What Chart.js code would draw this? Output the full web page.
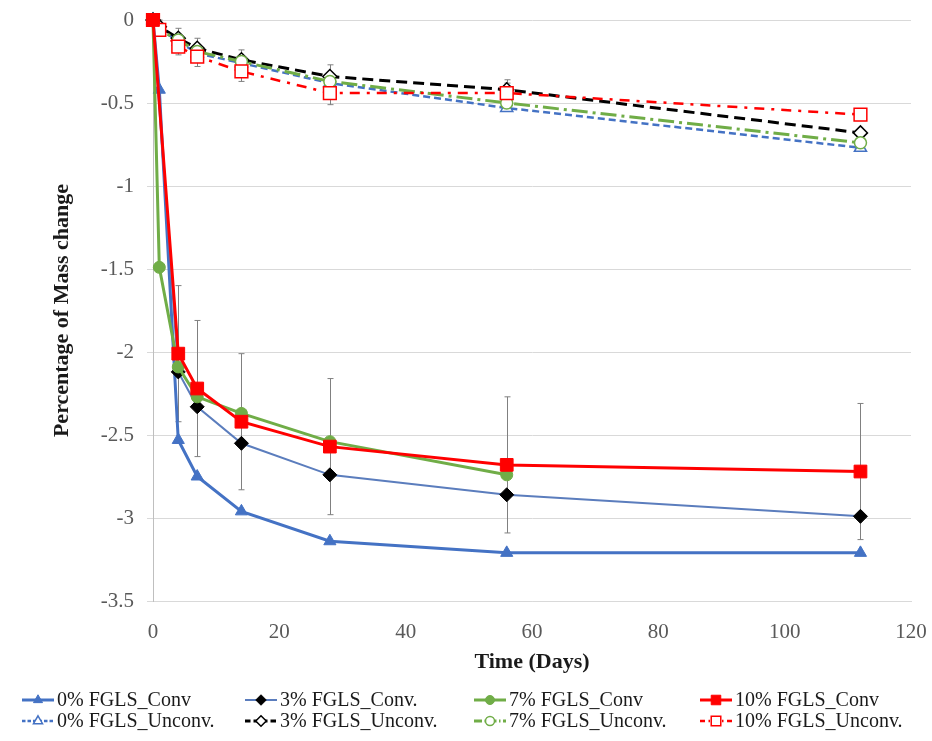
<!DOCTYPE html>
<html>
<head>
<meta charset="utf-8">
<title>Mass change</title>
<script src="https://cdn.jsdelivr.net/npm/chart.js@4/dist/chart.umd.min.js"></script>
<style>
    html, body { margin: 0; padding: 0; background: #fff; }
    #wrap { width: 932px; height: 741px; }
</style>
</head>
<body>
<div id="wrap"><canvas id="massChart" width="932" height="741"></canvas></div>
<script>
// Sampling days
const days = [0, 1, 4, 7, 14, 28, 56, 112];

// Conventional curing
const conv0 = [0, -0.42, -2.53, -2.75, -2.96, -3.14, -3.21, -3.21];
const conv3 = [0, null, -2.12, -2.33, -2.55, -2.74, -2.86, -2.99];
const conv7 = [0, -1.49, -2.09, -2.27, -2.37, -2.54, -2.74, null];
const conv10 = [0, null, -2.01, -2.22, -2.42, -2.57, -2.68, -2.72];

// Unconventional curing
const unconv0 = [0, -0.05, -0.13, -0.20, -0.26, -0.38, -0.53, -0.77];
const unconv3 = [0, -0.04, -0.11, -0.17, -0.24, -0.34, -0.42, -0.68];
const unconv7 = [0, -0.06, -0.12, -0.19, -0.25, -0.37, -0.50, -0.74];
const unconv10 = [0, -0.06, -0.16, -0.22, -0.31, -0.44, -0.44, -0.57];

// Standard deviations (only series that carry error bars)
const errConv10 = [0, null, 0.41, 0.41, 0.41, 0.41, 0.41, 0.41];
const errUnconv3 = [0, 0.04, 0.06, 0.06, 0.06, 0.07, 0.06, 0.02];
const errUnconv10 = [0, 0.03, 0.05, 0.06, 0.06, 0.07, 0.06, 0.02];

const xTickValues = [0, 20, 40, 60, 80, 100, 120];
const yTickValues = [0, -0.5, -1, -1.5, -2, -2.5, -3, -3.5];

const SERIF = "'Liberation Serif', 'Times New Roman', serif";
const BLUE = '#4472c4';
const GREEN = '#70ad47';
const RED = '#ff0000';

function toPoints(values) {
    return days.map((d, i) => ({ x: d, y: values[i] }));
}

function series(label, values, opts) {
    return Object.assign({
        label: label,
        data: toPoints(values),
        spanGaps: true,
        clip: false,
        tension: 0
    }, opts);
}

const convSets = [
    series('0% FGLS_Conv', conv0, {
        borderColor: BLUE, backgroundColor: BLUE, borderWidth: 3,
        pointStyle: 'triangle', pointRadius: 7, pointBorderWidth: 1
    }),
    series('3% FGLS_Conv.', conv3, {
        borderColor: '#5b7dbd', backgroundColor: '#000', borderWidth: 2,
        pointStyle: 'rectRot', pointRadius: 7, pointBorderColor: '#000', pointBorderWidth: 1
    }),
    series('7% FGLS_Conv', conv7, {
        borderColor: GREEN, backgroundColor: GREEN, borderWidth: 3,
        pointStyle: 'circle', pointRadius: 6, pointBorderWidth: 1
    }),
    series('10% FGLS_Conv', conv10, {
        borderColor: RED, backgroundColor: RED, borderWidth: 3,
        pointStyle: 'rect', pointRadius: 9, pointBorderWidth: 1,
        errors: errConv10
    })
];

const unconvSets = [
    series('0% FGLS_Unconv.', unconv0, {
        borderColor: BLUE, backgroundColor: '#fff', borderWidth: 2.5, borderDash: [7, 4],
        pointStyle: 'triangle', pointRadius: 7, pointBorderWidth: 1.5
    }),
    series('3% FGLS_Unconv.', unconv3, {
        borderColor: '#000', backgroundColor: '#fff', borderWidth: 3, borderDash: [11, 6],
        pointStyle: 'rectRot', pointRadius: 7, pointBorderWidth: 1.5,
        errors: errUnconv3
    }),
    series('7% FGLS_Unconv.', unconv7, {
        borderColor: GREEN, backgroundColor: '#fff', borderWidth: 3, borderDash: [16, 5, 3, 5],
        pointStyle: 'circle', pointRadius: 6, pointBorderWidth: 1.5
    }),
    series('10% FGLS_Unconv.', unconv10, {
        borderColor: RED, backgroundColor: '#fff', borderWidth: 2.5, borderDash: [10, 7, 3, 7],
        pointStyle: 'rect', pointRadius: 9, pointBorderWidth: 1.5,
        errors: errUnconv10
    })
];

// conventional series sit on top, higher FGLS content above lower
convSets.forEach((ds, i) => { ds.order = 4 - i; });
unconvSets.forEach((ds, i) => { ds.order = 8 - i; });
const datasets = convSets.concat(unconvSets);

// Vertical error bars with small caps
const errorBars = {
    id: 'errorBars',
    beforeDatasetsDraw(chart) {
        const { ctx, scales: { x, y } } = chart;
        ctx.save();
        ctx.strokeStyle = '#808080';
        ctx.lineWidth = 1;
        chart.data.datasets.forEach(ds => {
            if (!ds.errors) return;
            ds.data.forEach((p, i) => {
                const e = ds.errors[i];
                if (p.y === null || !e) return;
                const px = Math.round(x.getPixelForValue(p.x)) + 0.5;
                const top = y.getPixelForValue(p.y + e);
                const bottom = y.getPixelForValue(p.y - e);
                ctx.beginPath();
                ctx.moveTo(px, top);
                ctx.lineTo(px, bottom);
                ctx.moveTo(px - 3, top);
                ctx.lineTo(px + 3, top);
                ctx.moveTo(px - 3, bottom);
                ctx.lineTo(px + 3, bottom);
                ctx.stroke();
            });
        });
        ctx.restore();
    }
};

// Two-row legend under the axis, one column per FGLS content
const gridLegend = {
    id: 'gridLegend',
    afterDraw(chart) {
        const ctx = chart.ctx;
        const colX = [22, 245, 474, 700];
        const rowY = [700, 721];
        const sampleLen = 32;
        ctx.save();
        ctx.font = '20px ' + SERIF;
        ctx.textBaseline = 'middle';
        ctx.textAlign = 'left';
        chart.data.datasets.forEach((ds, i) => {
            const sx = colX[i % 4];
            const sy = rowY[Math.floor(i / 4)];
            ctx.strokeStyle = ds.borderColor;
            ctx.lineWidth = ds.borderWidth;
            ctx.setLineDash(ds.borderDash ? ds.borderDash.map(v => v * 0.5) : []);
            ctx.beginPath();
            ctx.moveTo(sx, sy);
            ctx.lineTo(sx + sampleLen, sy);
            ctx.stroke();
            ctx.setLineDash([]);
            ctx.fillStyle = ds.backgroundColor;
            ctx.strokeStyle = ds.pointBorderColor || ds.borderColor;
            ctx.lineWidth = ds.pointBorderWidth;
            Chart.helpers.drawPoint(ctx, {
                pointStyle: ds.pointStyle,
                radius: ds.pointRadius * 0.75,
                rotation: 0,
                borderWidth: ds.pointBorderWidth
            }, sx + sampleLen / 2, sy);
            ctx.fillStyle = '#1a1a1a';
            ctx.fillText(ds.label, sx + sampleLen + 3, sy + 1);
        });
        ctx.restore();
    }
};

const chart = new Chart(document.getElementById('massChart'), {
    type: 'line',
    data: { datasets: datasets },
    plugins: [errorBars, gridLegend],
    options: {
        responsive: false,
        animation: false,
        events: [],
        layout: { padding: { top: 20, right: 21, bottom: 60, left: 0 } },
        plugins: {
            legend: { display: false },
            tooltip: { enabled: false }
        },
        scales: {
            x: {
                type: 'linear',
                min: xTickValues[0],
                max: xTickValues[xTickValues.length - 1],
                afterBuildTicks: s => { s.ticks = xTickValues.map(v => ({ value: v })); },
                ticks: {
                    color: '#595959',
                    font: { family: SERIF, size: 21 },
                    padding: 19,
                    maxRotation: 0
                },
                grid: { display: false, drawTicks: false },
                border: { display: true, color: '#d9d9d9' },
                title: {
                    display: true,
                    text: 'Time (Days)',
                    color: '#1a1a1a',
                    font: { family: SERIF, size: 22, weight: 'bold' },
                    padding: { top: 0, bottom: 5 }
                },
                afterFit: s => {
                    s.height = 80;
                    s.paddingLeft = 0;
                    s.paddingRight = 0;
                }
            },
            y: {
                type: 'linear',
                min: yTickValues[yTickValues.length - 1],
                max: yTickValues[0],
                afterBuildTicks: s => { s.ticks = yTickValues.map(v => ({ value: v })); },
                ticks: {
                    color: '#595959',
                    font: { family: SERIF, size: 21 },
                    padding: 13,
                    callback: v => String(v)
                },
                grid: { color: '#d9d9d9', lineWidth: 1, tickLength: 6 },
                border: { display: true, color: '#bfbfbf' },
                title: {
                    display: true,
                    text: 'Percentage of Mass change',
                    color: '#1a1a1a',
                    font: { family: SERIF, size: 22, weight: 'bold' },
                    padding: { top: 49, bottom: 0 }
                },
                afterFit: s => {
                    s.width = 153;
                    s.paddingTop = 0;
                    s.paddingBottom = 0;
                }
            }
        }
    }
});
</script>
</body>
</html>
